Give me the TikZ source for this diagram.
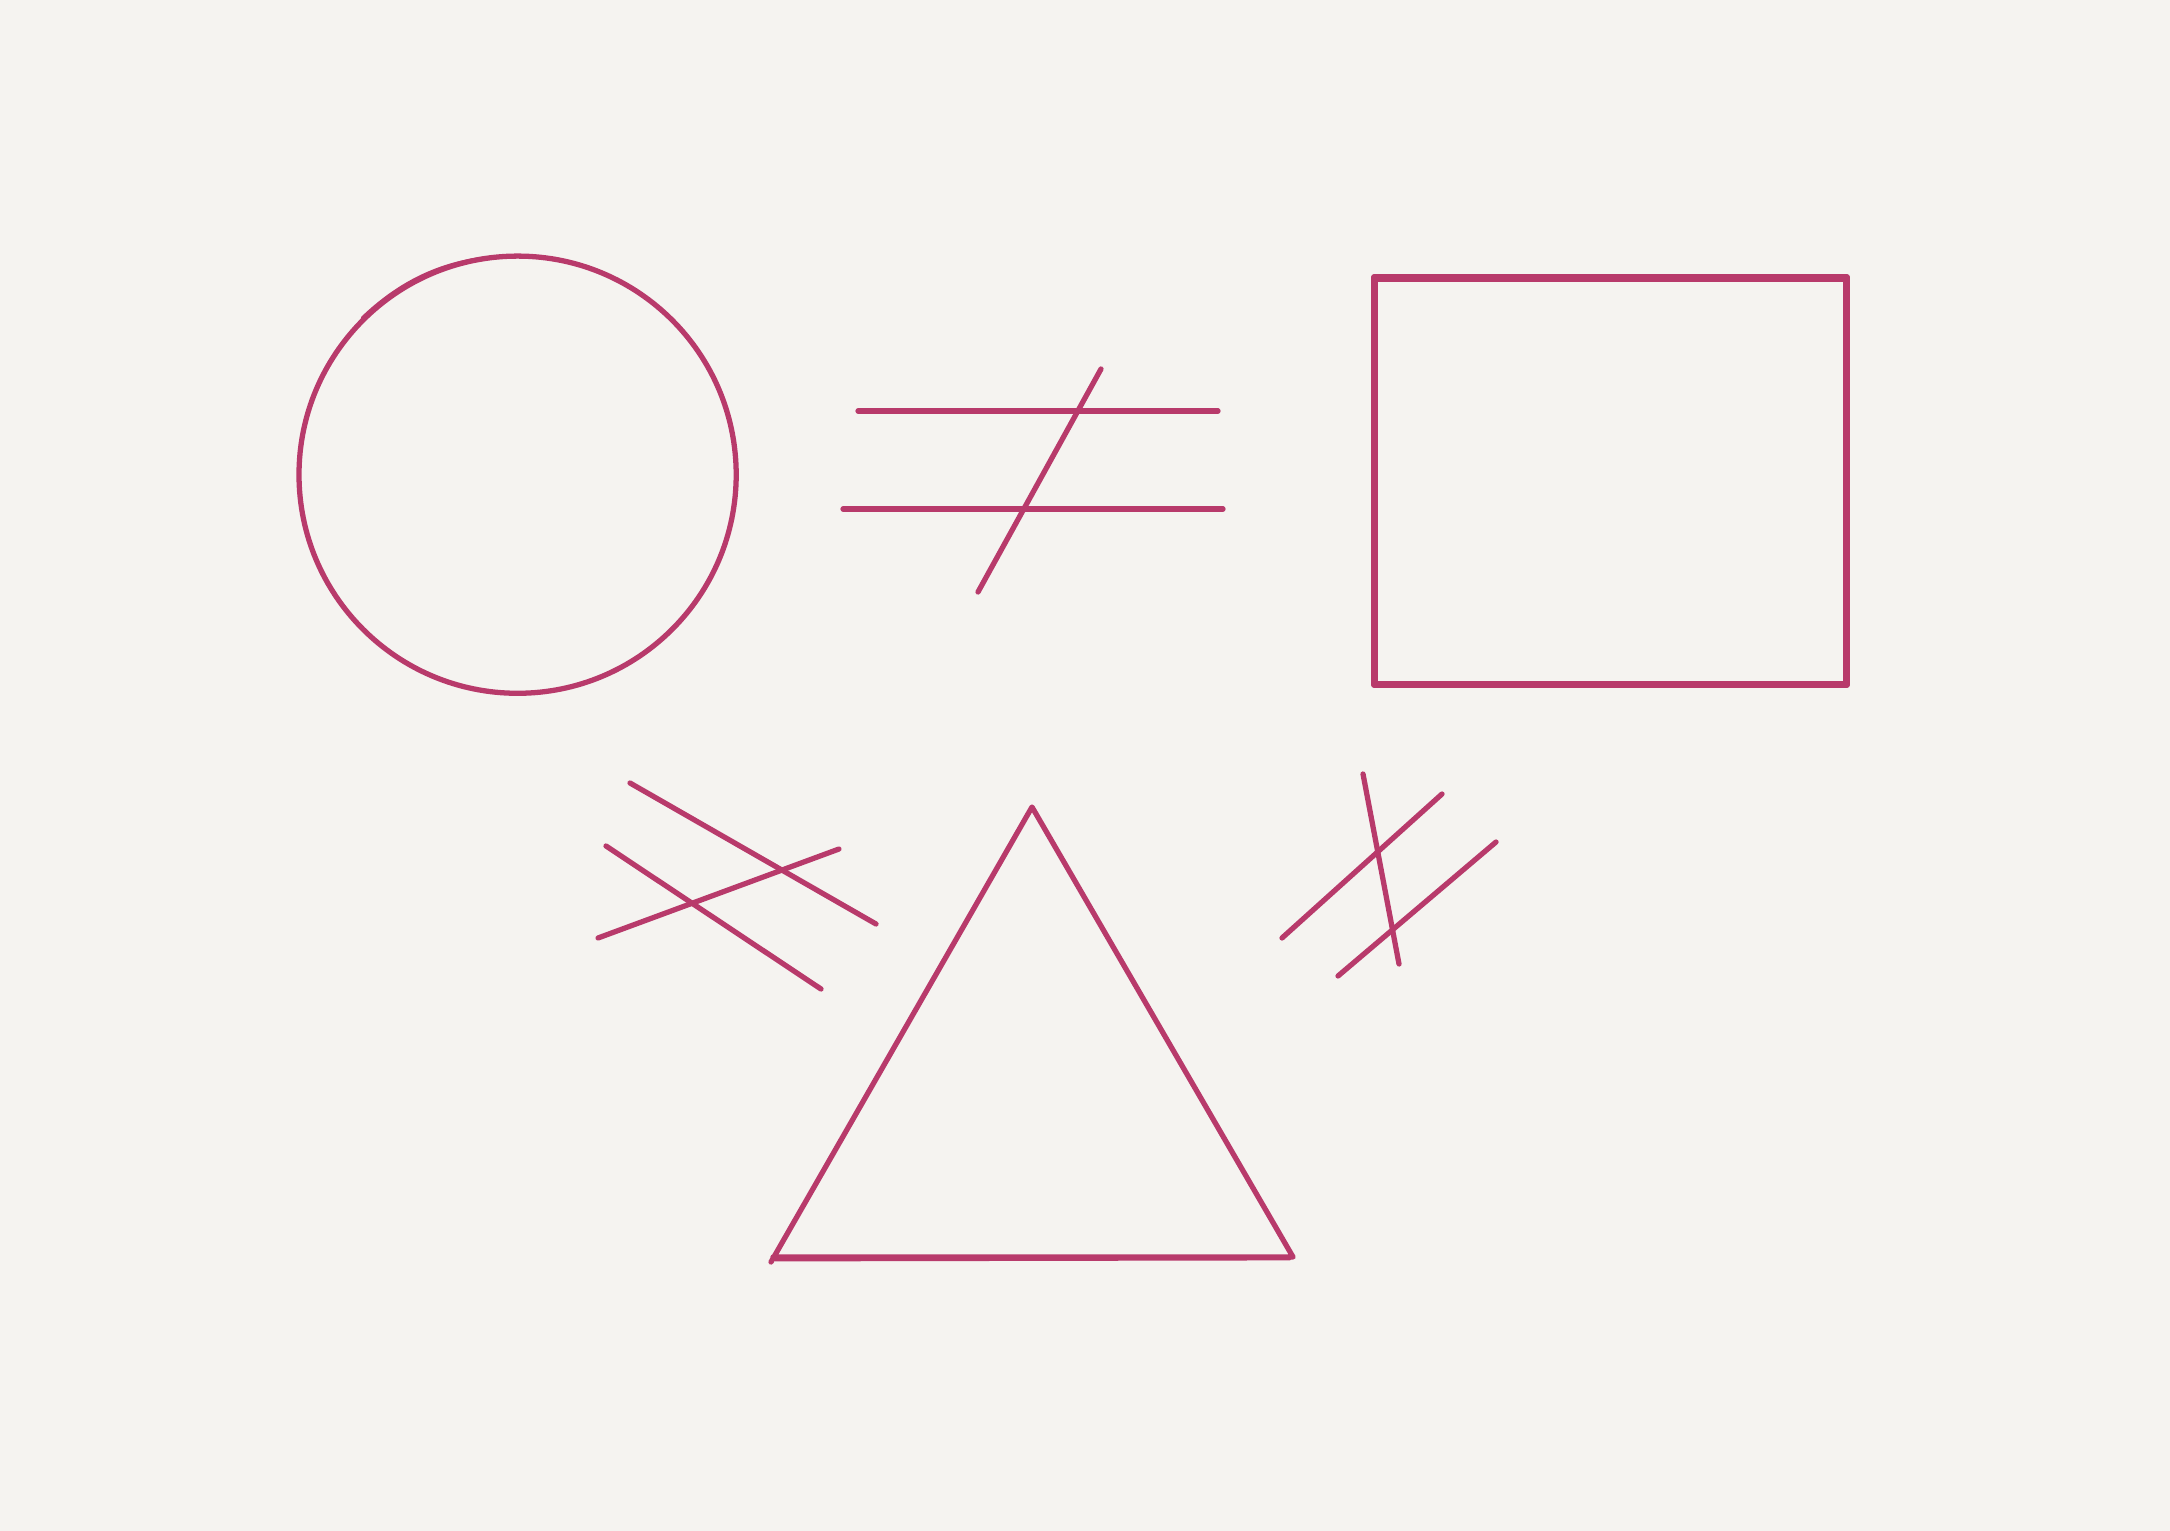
\documentclass[tikz,border=0pt]{standalone}
\definecolor{bgc}{HTML}{F5F3F0}
\definecolor{ink}{HTML}{B83A6B}
\begin{document}
\begin{tikzpicture}[x=0.01cm,y=-0.01cm,
  stroke/.style={draw=ink,line width=1.5pt,line cap=round,line join=round},
  thin stroke/.style={draw=ink,line width=0.8pt,line cap=round,line join=round}]
\fill[bgc] (0,0) rectangle (2170,1531);
\useasboundingbox (0,0) rectangle (2170,1531);
% circle
\draw[stroke] (517.6,474.7) circle (218.6);
\draw[thin stroke] (362,318) .. controls (410,272) and (460,256) .. (517,256);
% not equal
\draw[stroke] (858,411) -- (1218,411);
\draw[stroke] (843,509) -- (1223,509);
\draw[stroke] (1101,369) -- (978,592);
% rectangle
\draw[stroke] (1374,277) rectangle (1847,685);
\draw[thin stroke] (1377,281) -- (1844,281) -- (1844,682) -- (1377,682) -- cycle;
% left hatch
\draw[stroke] (630,783) -- (876,924);
\draw[stroke] (606,846) -- (821,989);
\draw[stroke] (598,938) -- (839,849);
% triangle
\draw[stroke] (771,1262) -- (1032,807) -- (1293,1257) -- (773,1257);
\draw[thin stroke] (775,1260) -- (1290,1259);
% right hatch
\draw[stroke] (1363,774) -- (1399,964);
\draw[stroke] (1282,938) -- (1442,794);
\draw[stroke] (1338,976) -- (1496,842);
\end{tikzpicture}
\end{document}
